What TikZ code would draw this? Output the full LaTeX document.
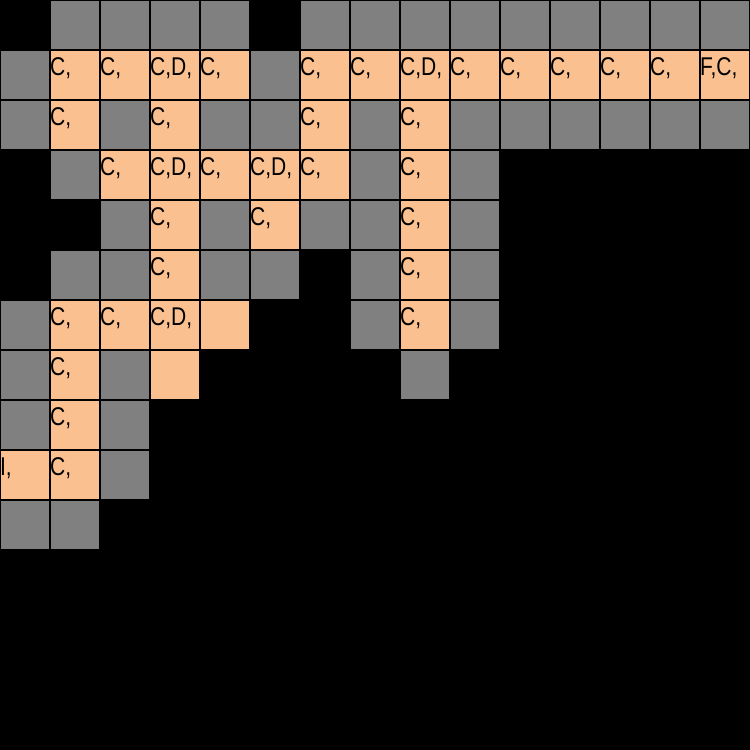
\documentclass[tikz,border=0pt]{standalone}
\usepackage{fontspec}
\setmainfont{Liberation Sans}[FakeStretch=0.82]
\definecolor{cellgray}{HTML}{808080}
\definecolor{cellorange}{HTML}{FAC08F}
\begin{document}
\begin{tikzpicture}[x=1cm,y=-1cm,
  cellbase/.style={draw=black,line width=0.6pt,minimum size=1cm,inner sep=0pt,outer sep=0pt},
  graycell/.style={cellbase,fill=cellgray},
  orangecell/.style={cellbase,fill=cellorange},
  celltext/.style={anchor=base west,inner sep=0pt,outer sep=0pt,text=black,
    font=\fontsize{14.6pt}{14.6pt}\selectfont}]
\fill[black] (0,0) rectangle (15,15);
\useasboundingbox (0,0) rectangle (15,15);
% gray cells
\foreach \c/\r in {1/0,2/0,3/0,4/0,6/0,7/0,8/0,9/0,10/0,11/0,12/0,13/0,14/0,
  0/1,5/1,
  0/2,2/2,4/2,5/2,7/2,9/2,10/2,11/2,12/2,13/2,14/2,
  1/3,7/3,9/3,
  2/4,4/4,6/4,7/4,9/4,
  1/5,2/5,4/5,5/5,7/5,9/5,
  0/6,7/6,9/6,
  0/7,2/7,8/7,
  0/8,2/8,
  2/9,
  0/10,1/10}
  \node[graycell] (g-\c-\r) at (\c+0.5,\r+0.5) {};
% orange cells with labels
\foreach \c/\r/\t in {{1/1/C,},{2/1/C,},{3/1/C,D,},{4/1/C,},{6/1/C,},{7/1/C,},{8/1/C,D,},
  {9/1/C,},{10/1/C,},{11/1/C,},{12/1/C,},{13/1/C,},{14/1/F,C,},
  {1/2/C,},{3/2/C,},{6/2/C,},{8/2/C,},
  {2/3/C,},{3/3/C,D,},{4/3/C,},{5/3/C,D,},{6/3/C,},{8/3/C,},
  {3/4/C,},{5/4/C,},{8/4/C,},
  {3/5/C,},{8/5/C,},
  {1/6/C,},{2/6/C,},{3/6/C,D,},{4/6/},{8/6/C,},
  {1/7/C,},{3/7/},
  {1/8/C,},
  {0/9/I,},{1/9/C,}}
{
  \node[orangecell] (o-\c-\r) at (\c+0.5,\r+0.5) {};
  \node[celltext] (t-\c-\r) at ([xshift=0.05pt,yshift=-0.5pt]o-\c-\r.west) {\t};
}
\end{tikzpicture}
\end{document}
